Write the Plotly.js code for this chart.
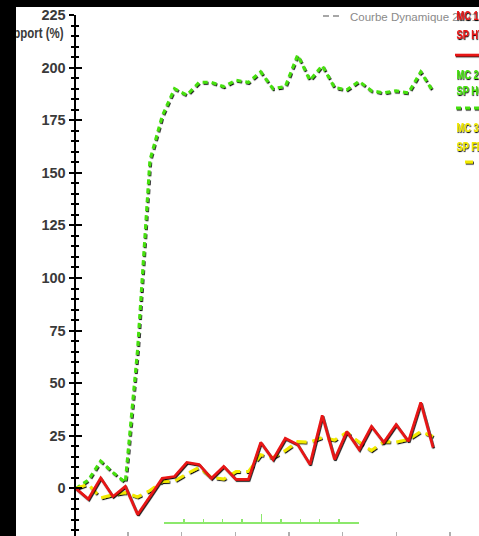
<!DOCTYPE html>
<html>
<head>
<meta charset="utf-8">
<script src="https://cdn.plot.ly/plotly-3.0.1.min.js"></script>
<style>
  html, body { margin: 0; padding: 0; background: #000; overflow: hidden; width: 479px; height: 536px; }
  #graphe { position: absolute; left: 16px; top: 7px; width: 463px; height: 600px; }
</style>
</head>
<body>
<svg width="0" height="0" style="position:absolute">
  <defs>
    <filter id="ombre" filterUnits="userSpaceOnUse" x="-200" y="-200" width="2000" height="2000">
      <feDropShadow dx="0.8" dy="1.1" stdDeviation="0.35" flood-color="#000" flood-opacity="0.95"/>
    </filter>
  </defs>
</svg>
<div id="graphe"></div>
<script>
// Jours de mesure
const jours = [0, 1, 2, 3, 4, 5, 6, 7, 8, 9, 10, 11, 12, 13, 14, 15, 16, 17, 18, 19, 20, 21, 22, 23, 24, 25, 26, 27, 28, 29];

// Rapport (%) par série
const mc1 = [0, -5, 5, -3.8, 1, -12.4, -3.8, 4.8, 5.7, 12.4, 11.4, 4.8, 10.5, 4.3, 4.3, 21.9, 13.8, 23.8, 20.9, 11.4, 34.7, 13.8, 27, 18.5, 29.5, 21.9, 30.4, 22.4, 40.9, 19.5];
const mc2 = [0, 4, 13, 7.6, 2.9, 66, 156, 177, 190, 187, 193, 193, 191, 194, 193, 198, 190, 191, 206, 194, 201, 190.5, 189.5, 193.5, 189, 188, 189, 188, 198, 188.7];
const mc3 = [0, 2, -4.5, -3, -2, -4, -1, 3.3, 3.5, 7, 10, 5.2, 4.5, 8, 8, 16, 14.7, 18, 22.3, 22, 24.2, 23, 26.6, 22, 18, 22.3, 22, 23.3, 27, 24.7];

// Libellés
const nomsSeries = ['MC 1', 'MC 2', 'MC 3'];
const sousTitres = ['SP HT 2021', 'SP HC 2021', 'SP FR 2021'];
const titreLegende = 'Courbe Dynamique 2021';
const titreAxeY = 'Rapport (%)';
const yTicks = [-25, 0, 25, 50, 75, 100, 125, 150, 175, 200, 225];

const couleurs = { mc1: '#e81414', mc2: '#46e010', mc3: '#f2ea00' };

// Géométrie de la zone de tracé (pixels du conteneur)
const W = 463, H = 600, ML = 60, MT = 8, PW = 403, PH = 526;
const MB = H - MT - PH;
const pasX = 12.31;
// conversion position page -> coordonnées papier
function px(xPage) { return (xPage - 16 - ML) / PW; }
function py(yPage) { return (MT + PH - (yPage - 7)) / PH; }

const fontTicks = { family: 'Liberation Sans, Arial, sans-serif', size: 14.5, color: '#3a3a3a', weight: 'bold' };
const fontLeg = 'Liberation Sans, Arial, sans-serif';

const traces = [
  { x: jours, y: mc2, name: nomsSeries[1], mode: 'lines', line: { color: couleurs.mc2, width: 3, dash: '5px,4px' } },
  { x: jours, y: mc3, name: nomsSeries[2], mode: 'lines', line: { color: couleurs.mc3, width: 3, dash: '10px,6px' } },
  { x: jours, y: mc1, name: nomsSeries[0], mode: 'lines', line: { color: couleurs.mc1, width: 2.6 } },
  // axe secondaire pour les graduations croisées
  { x: [], y: [], yaxis: 'y3', showlegend: false, hoverinfo: 'skip' },
  // réglette verte
  { x: [], y: [], xaxis: 'x2', yaxis: 'y2', showlegend: false, hoverinfo: 'skip' }
];

const gris = '#8a8a8a';
const annotations = [
  { text: titreAxeY, xref: 'paper', yref: 'paper', x: px(65), y: py(33), xanchor: 'right', yanchor: 'middle', showarrow: false,
    font: { family: fontLeg, size: 14, color: '#3a3a3a', weight: 'bold' } },
  { text: titreLegende, xref: 'paper', yref: 'paper', x: px(348), y: py(17), xanchor: 'left', yanchor: 'middle', showarrow: false,
    font: { family: fontLeg, size: 11.5, color: gris } }
];
const legendeY = [[16, 35], [75, 91], [128, 147]];
const legendeCouleurs = [couleurs.mc1, couleurs.mc2, couleurs.mc3];
for (let k = 0; k < 3; k++) {
  annotations.push({ text: nomsSeries[k], xref: 'paper', yref: 'paper', x: px(455), y: py(legendeY[k][0]), xanchor: 'left', yanchor: 'middle',
    showarrow: false, font: { family: fontLeg, size: 12.5, color: legendeCouleurs[k], weight: 'bold' } });
  annotations.push({ text: sousTitres[k], xref: 'paper', yref: 'paper', x: px(455), y: py(legendeY[k][1]), xanchor: 'left', yanchor: 'middle',
    showarrow: false, font: { family: fontLeg, size: 12.5, color: legendeCouleurs[k], weight: 'bold' } });
}

const shapes = [
  { type: 'line', xref: 'paper', yref: 'paper', x0: px(323), x1: px(340), y0: py(16), y1: py(16), line: { color: gris, width: 1.5, dash: '6px,4px' } },
  { type: 'line', xref: 'paper', yref: 'paper', x0: px(455), x1: px(482), y0: py(55), y1: py(55), line: { color: couleurs.mc1, width: 2.6 } },
  { type: 'line', xref: 'paper', yref: 'paper', x0: px(456), x1: px(482), y0: py(108), y1: py(108), line: { color: couleurs.mc2, width: 3, dash: '5px,4px' } },
  { type: 'line', xref: 'paper', yref: 'paper', x0: px(465), x1: px(473), y0: py(162), y1: py(162), line: { color: couleurs.mc3, width: 3 } }
];

const vert = '#8ce86c';
const layout = {
  width: W, height: H,
  margin: { l: ML, r: W - ML - PW, t: MT, b: MB, pad: 0 },
  paper_bgcolor: '#ffffff', plot_bgcolor: 'rgba(0,0,0,0)',
  showlegend: false, hovermode: false,
  xaxis: {
    range: [0, PW / pasX], showgrid: false, zeroline: false, showline: false, showticklabels: false,
    tick0: 4.22, dtick: 4.36, ticks: 'inside', ticklen: 9, tickwidth: 1.5, tickcolor: '#b0b0b0'
  },
  yaxis: {
    range: [-25, 225], tickvals: yTicks, showgrid: false, zeroline: false,
    showline: true, linecolor: '#000', linewidth: 2.5,
    ticks: 'outside', ticklen: 5, tickwidth: 2, tickcolor: '#000', tickfont: fontTicks,
    ticklabelstandoff: 0, ticklabeloverflow: 'allow',
    minor: { dtick: 5, tick0: 0, ticks: 'outside', ticklen: 3, tickwidth: 2, tickcolor: '#000' }
  },
  yaxis3: {
    overlaying: 'y', side: 'left', anchor: 'x', range: [-25, 225], tickvals: yTicks, showgrid: false, zeroline: false,
    showline: false, showticklabels: false, ticks: 'inside', ticklen: 6, tickwidth: 2, tickcolor: '#000',
    minor: { dtick: 5, tick0: 0, ticks: 'inside', ticklen: 3, tickwidth: 2, tickcolor: '#000' }
  },
  xaxis2: {
    domain: [px(164), px(359)], anchor: 'y2', range: [-0.03, 10.03], tick0: 0, dtick: 5,
    ticks: 'inside', ticklen: 8, tickwidth: 1.5, tickcolor: vert,
    showline: true, linecolor: vert, linewidth: 2, showticklabels: false, showgrid: false, zeroline: false,
    minor: { dtick: 1, tick0: 0, ticks: 'inside', ticklen: 3, tickwidth: 1.5, tickcolor: vert }
  },
  yaxis2: { domain: [py(522), py(522) + 0.02], anchor: 'x2', range: [0, 1], visible: false },
  annotations: annotations,
  shapes: shapes
};

Plotly.newPlot('graphe', traces, layout, { staticPlot: true, displayModeBar: false }).then(function (gd) {
  // ombre portée noire sous les courbes et la légende
  gd.querySelectorAll('.scatterlayer .js-line').forEach(function (p) { p.style.filter = 'url(#ombre)'; });
  gd.querySelectorAll('.shapelayer path').forEach(function (s, i) { if (i >= 1) s.style.filter = 'url(#ombre)'; });
  // textes en style étroit : compression horizontale autour du bord d'ancrage
  gd.querySelectorAll('.annotation').forEach(function (a, i) {
    if (i === 0) {
      a.style.transformOrigin = (65 - 16) + 'px 26px';
      a.style.transform = 'scaleX(0.82)';
    } else if (i >= 2) {
      a.style.filter = 'url(#ombre)';
      a.style.transformOrigin = (455 - 16) + 'px 0px';
      a.style.transform = 'scaleX(0.74)';
    }
  });
});
</script>
</body>
</html>
